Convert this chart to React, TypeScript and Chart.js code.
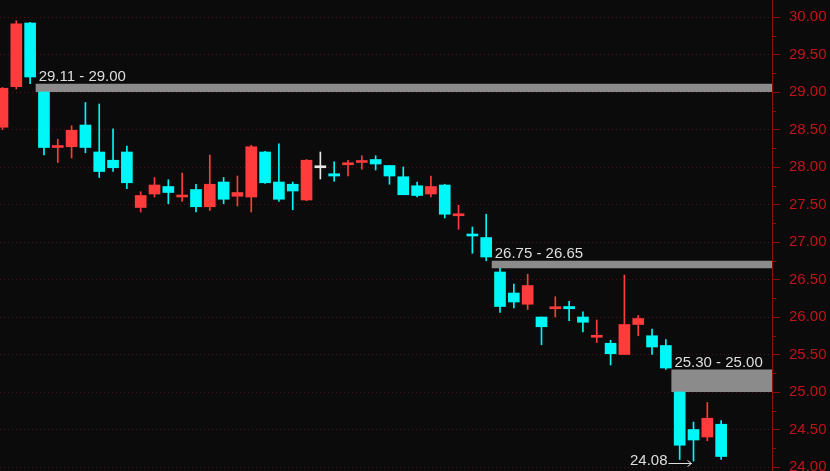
import React, { useEffect, useRef } from 'react';
import { Chart, registerables } from 'chart.js';

Chart.register(...registerables);

// ---- data ----
const opens = [
  28.53, 29.07, 29.92, 29.0, 28.26, 28.27, 28.56, 28.2, 28.09, 28.2,
  27.46, 27.64, 27.74, 27.6, 27.7, 27.47, 27.8, 27.61, 27.6, 28.2,
  27.8, 27.77, 27.56, 27.99, 27.91, 28.03, 28.06, 28.1, 28.02, 27.87,
  27.75, 27.64, 27.76, 27.35, 27.1, 27.06, 26.6, 26.32, 26.17, 26.0,
  26.11, 26.14, 26.0, 25.73, 25.65, 25.5, 25.9, 25.75, 25.62, 25.0,
  24.5, 24.4, 24.57,
];
const highs = [
  29.06, 29.95, 29.93, 29.0, 28.37, 28.55, 28.86, 28.84, 28.51, 28.28,
  27.67, 27.86, 27.83, 27.92, 27.77, 28.16, 27.86, 27.88, 28.29, 28.21,
  28.31, 27.8, 28.1, 28.2, 28.07, 28.09, 28.15, 28.15, 28.02, 28.0,
  27.8, 27.88, 27.77, 27.49, 27.2, 27.37, 26.65, 26.44, 26.57, 26.0,
  26.27, 26.21, 26.07, 25.96, 25.69, 26.56, 26.02, 25.84, 25.7, 25.0,
  24.6, 24.86, 24.62,
];
const lows = [
  28.5, 29.04, 29.11, 28.16, 28.06, 28.12, 28.19, 27.86, 27.94, 27.71,
  27.4, 27.6, 27.51, 27.54, 27.4, 27.42, 27.51, 27.48, 27.4, 27.78,
  27.54, 27.43, 27.55, 27.84, 27.81, 27.88, 27.97, 27.96, 27.77, 27.63,
  27.6, 27.6, 27.32, 27.17, 26.85, 26.75, 26.06, 26.12, 26.1, 25.63,
  26.0, 25.95, 25.8, 25.66, 25.36, 25.5, 25.75, 25.5, 25.3, 24.1,
  24.08, 24.35, 24.1,
];
const closes = [
  29.05, 29.91, 29.2, 28.26, 28.28, 28.49, 28.26, 27.94, 27.99, 27.79,
  27.62, 27.76, 27.66, 27.62, 27.47, 27.77, 27.57, 27.66, 28.27, 27.79,
  27.57, 27.68, 28.09, 27.99, 27.88, 28.05, 28.08, 28.04, 27.88, 27.63,
  27.62, 27.74, 27.37, 27.37, 27.08, 26.8, 26.14, 26.2, 26.42, 25.87,
  26.13, 26.11, 25.93, 25.75, 25.51, 25.9, 25.98, 25.6, 25.32, 24.29,
  24.36, 24.65, 24.14,
];

const yTickValues = [24, 24.5, 25, 25.5, 26, 26.5, 27, 27.5, 28, 28.5, 29, 29.5, 30];
const yMinorTickValues = [24.25, 24.75, 25.25, 25.75, 26.25, 26.75, 27.25, 27.75, 28.25, 28.75, 29.25, 29.75];

const gapStartIndex = [2, 35, 48];
const gapHigh = [29.11, 26.75, 25.3];
const gapLow = [29.0, 26.65, 25.0];

const lowMarkIndex = 50;
const lowMarkValue = 24.08;

// ---- styles ----
const UP = '#ff3b3b';
const DOWN = '#00f7f7';
const FLAT = '#e6e6e6';
const BAND = '#8b8b8b';
const TEXT = '#dedede';
const AXIS_RED = '#8c0f0f';
const LABEL_RED = '#c4121a';
const GRID_RED = '#4e1313';
const FONT_FAMILY = '"Liberation Sans", Arial, sans-serif';

function candleColor(i: number): string {
  if (closes[i] > opens[i]) return UP;
  if (closes[i] < opens[i]) return DOWN;
  return FLAT;
}

export default function App() {
  const ref = useRef<HTMLCanvasElement | null>(null);

  useEffect(() => {
    if (!ref.current) return;
    const idx = opens.map((_, i) => i);
    const colors = idx.map(candleColor);

    const annot = {
      id: 'annot',
      beforeDatasetsDraw(chart: any) {
        const { ctx, chartArea } = chart;
        const x = chart.scales.x;
        const y = chart.scales.y;
        ctx.save();
        gapStartIndex.forEach((gi, k) => {
          const x0 = x.getPixelForValue(gi + 0.4);
          const yTop = y.getPixelForValue(gapHigh[k]);
          const yBot = y.getPixelForValue(gapLow[k]);
          ctx.fillStyle = BAND;
          ctx.fillRect(x0, yTop, chartArea.right - x0, yBot - yTop);
          ctx.fillStyle = TEXT;
          ctx.font = `15px ${FONT_FAMILY}`;
          ctx.textAlign = 'left';
          ctx.textBaseline = 'alphabetic';
          ctx.fillText(`${gapHigh[k].toFixed(2)} - ${gapLow[k].toFixed(2)}`, x0 + 3, yTop - 3);
        });
        ctx.restore();
      },
      afterDraw(chart: any) {
        const { ctx } = chart;
        const x = chart.scales.x;
        const y = chart.scales.y;
        ctx.save();
        // lowest-low marker
        const px = x.getPixelForValue(lowMarkIndex);
        const py = y.getPixelForValue(lowMarkValue);
        ctx.fillStyle = TEXT;
        ctx.font = `15px ${FONT_FAMILY}`;
        ctx.textAlign = 'right';
        ctx.textBaseline = 'middle';
        ctx.fillText(lowMarkValue.toFixed(2), px - 26, py);
        ctx.strokeStyle = TEXT;
        ctx.lineWidth = 1;
        const ay = Math.round(py + 1.5) + 0.5;
        ctx.beginPath();
        ctx.moveTo(px - 25, ay);
        ctx.lineTo(px - 2, ay);
        ctx.moveTo(px - 6, ay - 3);
        ctx.lineTo(px - 2, ay);
        ctx.lineTo(px - 6, ay + 3);
        ctx.stroke();
        // minor ticks on the price axis
        ctx.strokeStyle = AXIS_RED;
        ctx.beginPath();
        yMinorTickValues.forEach((v) => {
          const ty = Math.round(y.getPixelForValue(v)) + 0.5;
          ctx.moveTo(y.left, ty);
          ctx.lineTo(y.left + 4, ty);
        });
        ctx.stroke();
        ctx.restore();
      },
    };

    const chart = new Chart(ref.current, {
      type: 'bar',
      data: {
        datasets: [
          {
            label: 'body',
            data: idx.map((i) => ({ x: i, y: [opens[i], closes[i]] })) as any,
            backgroundColor: colors,
            barThickness: 11,
            minBarLength: 2,
            grouped: false,
            order: 1,
          } as any,
          {
            label: 'wick',
            data: idx.map((i) => ({ x: i, y: [lows[i], highs[i]] })) as any,
            backgroundColor: colors,
            barThickness: 1,
            grouped: false,
            order: 2,
          } as any,
        ],
      },
      options: {
        animation: false,
        responsive: false,
        devicePixelRatio: 1,
        layout: { padding: 0 },
        plugins: { legend: { display: false }, tooltip: { enabled: false } },
        scales: {
          x: {
            type: 'linear',
            min: -0.18,
            max: 55.68,
            offset: false,
            bounds: 'data',
            display: false,
          },
          y: {
            type: 'linear',
            position: 'right',
            min: 23.9467,
            max: 30.2267,
            bounds: 'data',
            beginAtZero: false,
            afterBuildTicks: (s: any) => {
              s.ticks = yTickValues.map((v) => ({ value: v }));
            },
            afterFit: (s: any) => {
              s.width = 58;
              s.paddingTop = 0;
              s.paddingBottom = 0;
            },
            ticks: {
              color: LABEL_RED,
              font: { size: 15, family: FONT_FAMILY },
              padding: 9,
              callback: (v: any) => Number(v).toFixed(2),
            },
            grid: {
              color: GRID_RED,
              tickColor: AXIS_RED,
              tickLength: 8,
              lineWidth: 1,
            },
            border: { display: true, color: AXIS_RED, width: 1, dash: [1, 3] },
          },
        },
      } as any,
      plugins: [annot],
    });
    return () => chart.destroy();
  }, []);

  return (
    <div
      style={{
        position: 'fixed',
        left: 0,
        top: 0,
        width: 830,
        height: 471,
        background: '#0c0b0c',
      }}
    >
      <canvas ref={ref} width={830} height={471} style={{ display: 'block' }} />
    </div>
  );
}
